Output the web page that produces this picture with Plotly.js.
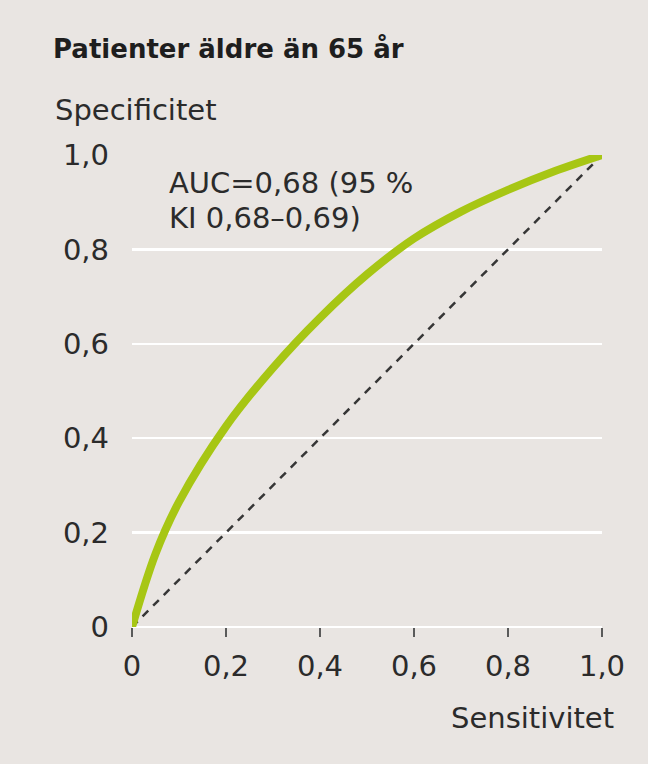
<!DOCTYPE html>
<html>
<head>
<meta charset="utf-8">
<script src="https://cdn.plot.ly/plotly-3.0.1.min.js"></script>
<style>html,body{margin:0;padding:0;background:#e9e5e2;}#chart{width:648px;height:764px;}</style>
</head>
<body>
<div id="chart"></div>
<script>
// ROC curve
const sensitivity = [0, 0.05, 0.1, 0.2, 0.3, 0.4, 0.5, 0.6, 0.7, 0.8, 0.9, 1.0];
const specificity = [0, 0.155, 0.265, 0.425, 0.549, 0.655, 0.747, 0.823, 0.88, 0.926, 0.966, 1.0];
const refX = [0, 1];
const refY = [0, 1];
const tickVals = [0, 0.2, 0.4, 0.6, 0.8, 1.0];
const tickText = ["0", "0,2", "0,4", "0,6", "0,8", "1,0"];
const titleText = "Patienter äldre än 65 år";
const yLabel = "Specificitet";
const xLabel = "Sensitivitet";
const aucLine1 = "AUC=0,68 (95 %";
const aucLine2 = "KI 0,68–0,69)";

const FONT = "DejaVu Sans, Noto Sans, sans-serif";
const TXT = "#2b2b2b";
const FS = 29;

const traces = [
  {x: refX, y: refY, mode: "lines", line: {color: "#363636", width: 2.5, dash: "8px,7px"}, hoverinfo: "skip", cliponaxis: false},
  {x: sensitivity, y: specificity, mode: "lines", line: {color: "#a7c614", width: 8, shape: "spline", smoothing: 1}, hoverinfo: "skip", cliponaxis: false}
];

const layout = {
  width: 648, height: 764,
  paper_bgcolor: "#e9e5e2", plot_bgcolor: "#e9e5e2",
  margin: {l: 132, r: 46, t: 155, b: 137},
  showlegend: false,
  font: {family: FONT, color: TXT, size: FS},
  title: {text: "<b>" + titleText + "</b>", x: 53/648, xanchor: "left", xref: "container", y: 1 - 49/764, yref: "container", yanchor: "middle", font: {family: FONT, size: 26, color: "#1e1e1e"}},
  xaxis: {range: [0, 1], tickvals: tickVals, ticktext: tickText, ticks: "outside", ticklen: 9, tickwidth: 2, tickcolor: "#5a5a5a", ticklabelstandoff: 4, showgrid: false, zeroline: false, showline: false, tickfont: {size: FS, color: TXT}, fixedrange: true},
  yaxis: {range: [0, 1], tickvals: tickVals, ticktext: tickText, ticks: "", showgrid: true, gridcolor: "#ffffff", gridwidth: 2.5, zeroline: true, zerolinecolor: "#ffffff", zerolinewidth: 2.5, showline: false, ticklabelstandoff: 22, tickfont: {size: FS, color: TXT}, fixedrange: true},
  annotations: [
    {text: yLabel, xref: "paper", yref: "paper", x: -0.168, y: 1.095, xanchor: "left", yanchor: "middle", showarrow: false, font: {size: FS, color: TXT}},
    {text: xLabel, xref: "paper", yref: "paper", x: 1.03, y: -0.193, xanchor: "right", yanchor: "middle", showarrow: false, font: {size: FS, color: TXT}},
    {text: aucLine1, xref: "x", yref: "y", x: 0.0745, y: 0.941, xanchor: "left", yanchor: "middle", showarrow: false, font: {size: FS, color: TXT}},
    {text: aucLine2, xref: "x", yref: "y", x: 0.0745, y: 0.867, xanchor: "left", yanchor: "middle", showarrow: false, font: {size: FS, color: TXT}}
  ]
};

Plotly.newPlot("chart", traces, layout, {displayModeBar: false, staticPlot: true});
</script>
</body>
</html>
